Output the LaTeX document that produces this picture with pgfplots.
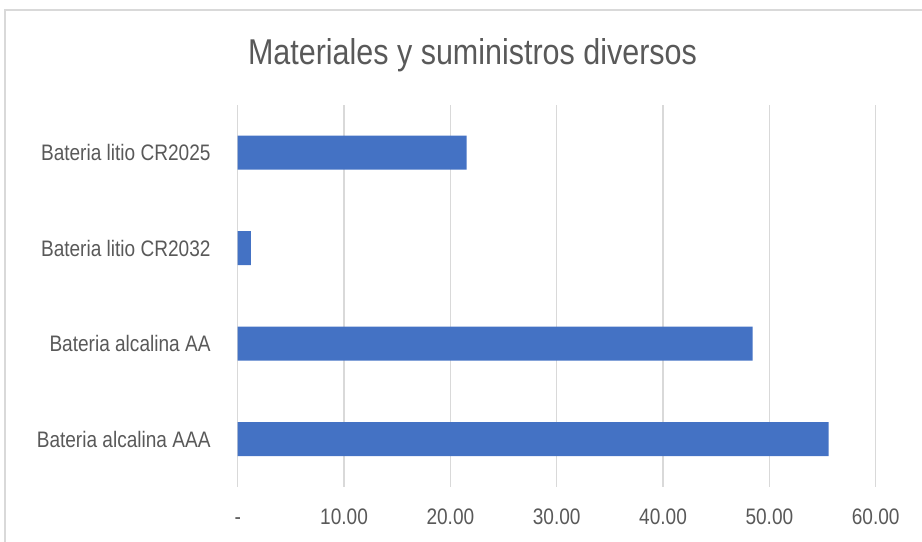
\documentclass[border=0pt]{standalone}
\usepackage{fontspec}
\setmainfont{Liberation Sans}[FakeStretch=0.85]
\usepackage{pgfplots}
\pgfplotsset{compat=1.18}
\definecolor{barblue}{HTML}{4472C4}
\definecolor{gridgray}{HTML}{D9D9D9}
\definecolor{txt}{HTML}{595959}
\begin{document}
\begin{tikzpicture}[x=1bp,y=1bp]
\useasboundingbox (0,0) rectangle (922,542);
\draw[color=gridgray, line width=1.2bp] (5,-5) -- (5,532) -- (930,532);
\node[text=txt, font=\fontsize{36}{38}\selectfont, anchor=base, inner sep=0pt] at (472.5,477.7) {Materiales y suministros diversos};
\begin{axis}[
  at={(237.7bp,55bp)}, anchor=south west,
  scale only axis, width=638bp, height=382bp,
  xmin=0, xmax=60, ymin=-0.5, ymax=3.5,
  xbar, bar width=34bp,
  ytick={0,1,2,3},
  yticklabels={Bateria alcalina AAA, Bateria alcalina AA, Bateria litio CR2032, Bateria litio CR2025},
  xtick={0,10,20,30,40,50,60},
  xticklabels={-,10.00,20.00,30.00,40.00,50.00,60.00},
  axis line style={draw=none},
  major tick length=0pt,
  xmajorgrids, grid style={color=gridgray, line width=1.2bp},
  tick label style={text=txt, font=\fontsize{22.5}{24}\selectfont},
  yticklabel style={anchor=east, inner sep=0pt, xshift=-27bp},
  xticklabel style={anchor=base, inner sep=0pt, yshift=-38bp},
  clip=false,
]
\addplot[fill=barblue, draw=none] coordinates {(55.58,0) (48.43,1) (1.25,2) (21.54,3)};
\end{axis}
\end{tikzpicture}
\end{document}
